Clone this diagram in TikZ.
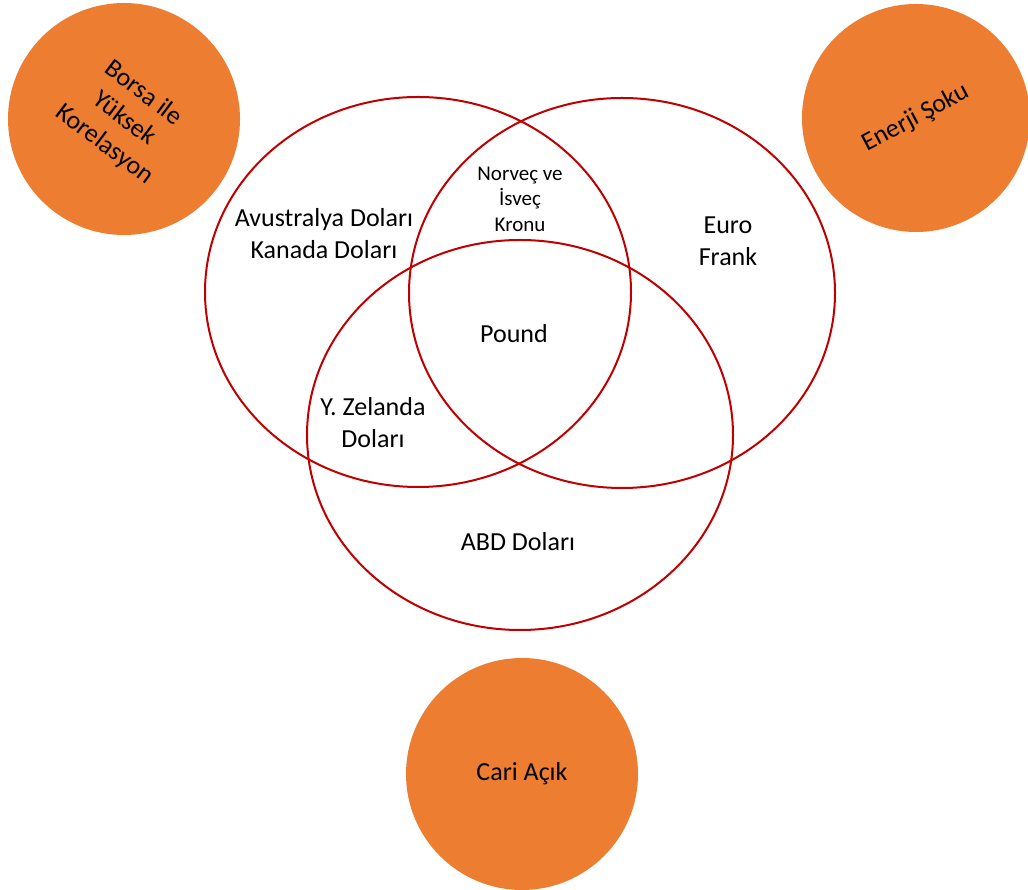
\documentclass[tikz,border=0pt]{standalone}
\usepackage{fontspec}
\setmainfont{Carlito}
\usetikzlibrary{shapes.geometric}
\definecolor{setred}{HTML}{C00000}
\definecolor{riskorange}{HTML}{ED7D31}
\begin{document}
\begin{tikzpicture}[
    x=1pt, y=1pt,
    every node/.style={font=\fontsize{26}{32}\selectfont, align=center, inner sep=0pt},
    set/.style={draw=setred, line width=2pt, ellipse, minimum width=426pt, minimum height=390pt},
    risk/.style={circle, fill=riskorange, minimum size=232pt},
    small/.style={font=\fontsize{21}{25.5}\selectfont},
]
\useasboundingbox (0,0) rectangle (1028,889);
\node[risk, rotate=-37] (borsa) at (124,770) {Borsa ile\\Yüksek\\Korelasyon};
\node[risk, rotate=28, minimum size=228pt] (enerji) at (916,771) {Enerji Şoku};
\node[risk] (cari) at (522,115) {Cari Açık};
\node[set] (commodity) at (418,597) {};
\node[set] (europe) at (622,596) {};
\node[set] (usd) at (520,454) {};
\node (aud) at (324,655) {Avustralya Doları\\Kanada Doları};
\node[small] (nok) at (520,690) {Norveç ve\\İsveç\\Kronu};
\node (eur) at (728,648) {Euro\\Frank};
\node (gbp) at (514,555) {Pound};
\node (nzd) at (373,466) {Y. Zelanda\\Doları};
\node (abd) at (518,347) {ABD Doları};
\end{tikzpicture}
\end{document}
